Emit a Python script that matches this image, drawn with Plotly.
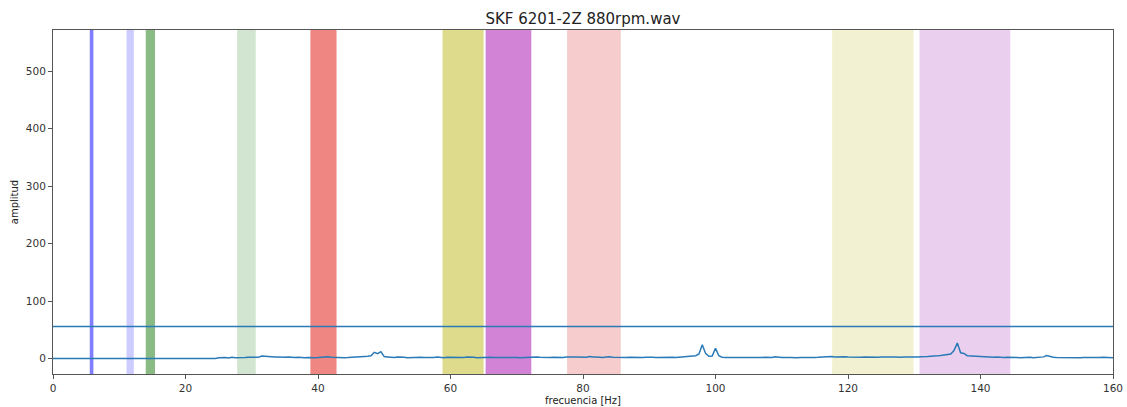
import plotly.graph_objects as go

title = "SKF 6201-2Z 880rpm.wav"
x_ticks = [0, 20, 40, 60, 80, 100, 120, 140, 160]
y_ticks = [0, 100, 200, 300, 400, 500]
threshold = 56

# spectrum: flat segment then measured amplitudes every 0.5 Hz from 25 Hz
flat_freq = [0.0, 24.5]
flat_amp = [0.0, 0.0]
start_freq = 25.0
step_freq = 0.5
spec_amp = [
    # 25 - 35
    1.5, 2.0, 1.8, 1.2, 2.2, 1.6, 1.4, 2.0, 1.8, 2.4, 2.0, 1.6, 2.2, 4.6, 3.8, 3.0, 3.4, 2.6, 3.0, 2.4,
    # 35 - 45
    2.4, 2.8, 2.0, 1.8, 2.2, 1.6, 1.4, 1.8, 1.2, 1.6, 1.8, 2.4, 2.0, 3.2, 2.2, 1.8, 1.4, 2.0, 1.6, 1.8,
    # 45 - 55
    2.0, 2.4, 2.2, 3.0, 3.8, 4.2, 5.0, 11.0, 8.5, 12.0, 3.5, 3.0, 2.4, 2.0, 2.6, 1.8, 2.2, 1.6, 2.0, 1.8,
    # 55 - 65
    1.8, 2.2, 2.0, 1.6, 2.4, 1.8, 2.6, 2.0, 1.6, 2.2, 2.0, 2.8, 1.8, 2.4, 2.0, 2.6, 1.8, 2.2, 1.6, 2.0,
    # 65 - 75
    2.2, 1.8, 2.4, 2.0, 1.6, 2.2, 1.8, 2.0, 2.4, 1.6, 2.0, 1.4, 1.8, 2.2, 1.6, 2.0, 2.6, 2.2, 1.8, 2.4,
    # 75 - 85
    2.0, 2.2, 1.8, 2.4, 2.0, 2.8, 2.2, 2.6, 3.0, 2.4, 2.8, 2.2, 3.6, 2.6, 3.0, 2.4, 2.0, 2.6, 3.2, 2.4,
    # 85 - 95
    2.0, 2.6, 2.2, 1.8, 2.4, 2.0, 1.6, 2.2, 1.8, 2.4, 2.8, 2.2, 1.8, 2.0, 2.6, 2.2, 1.8, 2.4, 2.0, 2.6,
    # 95 - 105
    2.4, 3.0, 3.6, 4.2, 5.0, 8.0, 24.0, 9.0, 4.0, 4.5, 18.0, 5.0, 2.4, 2.0, 1.8, 2.2, 1.6, 1.8, 2.0, 1.6,
    # 105 - 115
    1.8, 2.0, 1.6, 2.2, 1.8, 2.4, 2.0, 1.8, 3.2, 2.2, 2.0, 1.8, 2.4, 2.0, 1.6, 2.2, 1.8, 2.0, 2.4, 1.8,
    # 115 - 125
    2.0, 2.2, 2.6, 3.4, 2.8, 3.6, 2.6, 3.0, 2.4, 3.2, 2.8, 2.4, 3.0, 2.6, 2.2, 2.8, 2.4, 3.0, 2.6, 2.2,
    # 125 - 135
    2.8, 2.4, 2.0, 2.6, 3.0, 2.4, 2.2, 2.8, 2.6, 2.4, 2.2, 2.8, 3.2, 3.0, 3.6, 4.2, 4.0, 5.0, 5.6, 6.0,
    # 135 - 145
    6.4, 8.0, 14.0, 27.0, 10.0, 9.0, 5.0, 4.6, 3.6, 3.2, 3.0, 2.8, 3.2, 2.6, 2.4, 2.8, 2.2, 2.0, 2.4, 1.8,
    # 145 - 155
    2.0, 1.8, 1.6, 2.0, 1.8, 2.2, 1.6, 2.0, 2.4, 3.0, 5.5, 3.8, 2.2, 1.8, 1.6, 2.0, 1.8, 1.6, 2.0, 1.8,
    # 155 - 160
    1.6, 2.0, 1.8, 2.2, 1.6, 2.0, 1.8, 2.4, 2.0, 1.8, 1.6,
]
spec_freq = [start_freq + step_freq * i for i in range(len(spec_amp))]

# highlighted frequency bands
band_start = [5.55, 11.1, 14.0, 27.8, 38.85, 58.8, 65.3, 77.6, 117.6, 130.8]
band_end = [6.1, 12.2, 15.4, 30.6, 42.8, 65.0, 72.2, 85.7, 129.9, 144.5]
band_color = ["#7f7fff", "#ccccff", "#8abb84", "#d1e5d0", "#f08682",
              "#dedc8c", "#d283d6", "#f6cccd", "#f2f2d2", "#ebcfee"]

line_color = "#2a7ab8"
font_family = "DejaVu Sans"

fig = go.Figure()
fig.add_trace(go.Scatter(
    x=flat_freq + spec_freq, y=flat_amp + spec_amp,
    mode="lines", line=dict(color=line_color, width=1.5), showlegend=False,
))

for x0, x1, c in zip(band_start, band_end, band_color):
    fig.add_vrect(x0=x0, x1=x1, fillcolor=c, opacity=1, line_width=0, layer="below")

fig.add_hline(y=threshold, line=dict(color=line_color, width=1.5), layer="above")

axis_common = dict(
    showgrid=False, zeroline=False, showline=True, linecolor="#555555", linewidth=1,
    mirror=True, ticks="outside", ticklen=4, tickcolor="#555555", automargin=False,
    tickfont=dict(family=font_family, size=10.5, color="#333333"),
)

fig.update_layout(
    width=1127, height=407,
    margin=dict(l=53, r=14, t=30, b=33),
    paper_bgcolor="white", plot_bgcolor="white",
    title=dict(text=title, x=0.5173, xanchor="center", y=0.955, yanchor="middle",
               font=dict(family=font_family, size=15, color="#222222")),
    xaxis=dict(range=[0, 160], tickvals=x_ticks,
               title=dict(text="frecuencia [Hz]", standoff=4,
                          font=dict(family=font_family, size=10, color="#222222")),
               **axis_common),
    yaxis=dict(range=[-26.8, 572], tickvals=y_ticks,
               title=dict(text="amplitud", standoff=5,
                          font=dict(family=font_family, size=10, color="#222222")),
               **axis_common),
)

fig.write_html("out.html")
